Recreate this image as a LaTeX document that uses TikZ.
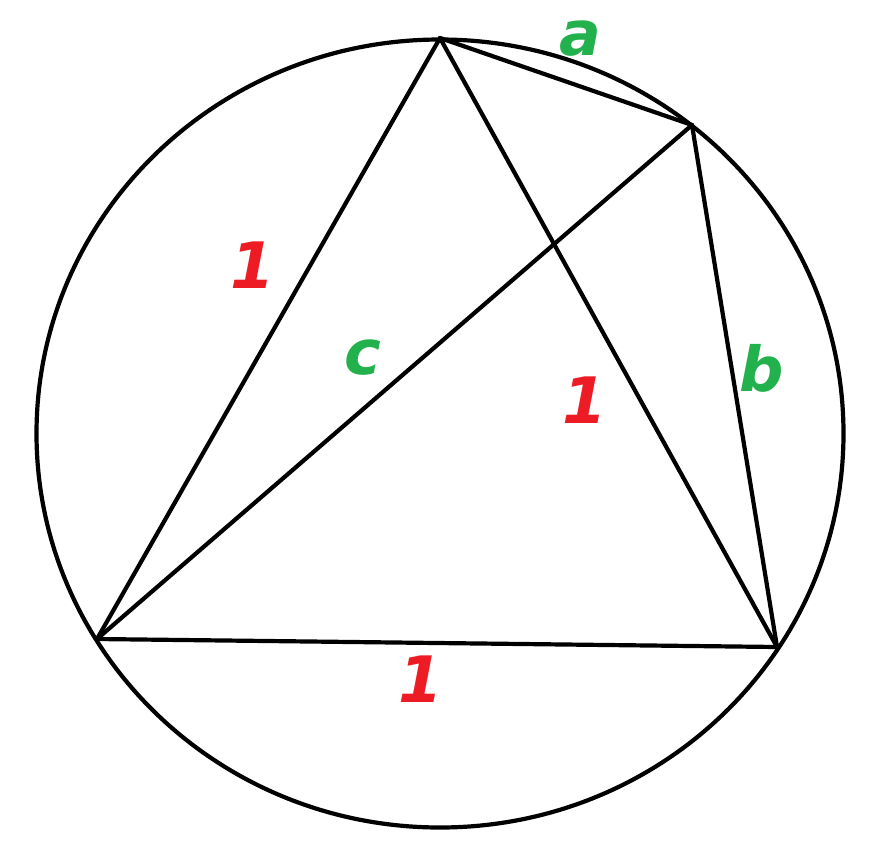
\documentclass[tikz,border=0pt]{standalone}
\usepackage{fontspec}
\newfontfamily\lblfont{DejaVu Sans}
\definecolor{pred}{HTML}{ED1C24}
\definecolor{pgreen}{HTML}{22B14C}
\begin{document}
\begin{tikzpicture}[x=1pt,y=-1pt,
  seg/.style={line width=4.2pt,line cap=round,line join=round},
  redlbl/.style={text=pred,font=\lblfont\bfseries\itshape\fontsize{64}{64}\selectfont,inner sep=0pt},
  grnlbl/.style={text=pgreen,font=\lblfont\bfseries\itshape\fontsize{62}{62}\selectfont,inner sep=0pt}]
\useasboundingbox (0,0) rectangle (873,860);
\coordinate (O) at (440,433.5);
\coordinate (A) at (440,38);
\coordinate (P) at (692,125);
\coordinate (B) at (97,639);
\coordinate (C) at (777,647);
\draw[seg] (O) ellipse [x radius=403.5, y radius=394];
\draw[seg] (A) -- (B);
\draw[seg] (A) -- (C);
\draw[seg] (B) -- (C);
\draw[seg] (B) -- (P);
\draw[seg] (A) -- (P);
\draw[seg] (P) -- (C);
\node[redlbl] (l1) at (253,265) {1};
\node[redlbl] (l2) at (585,400) {1};
\node[redlbl] (l3) at (421,679) {1};
\node[grnlbl] (la) at (580,39) {a};
\node[grnlbl] (lc) at (363,358) {c};
\node[grnlbl] (lb) at (762,368) {b};
\end{tikzpicture}
\end{document}
